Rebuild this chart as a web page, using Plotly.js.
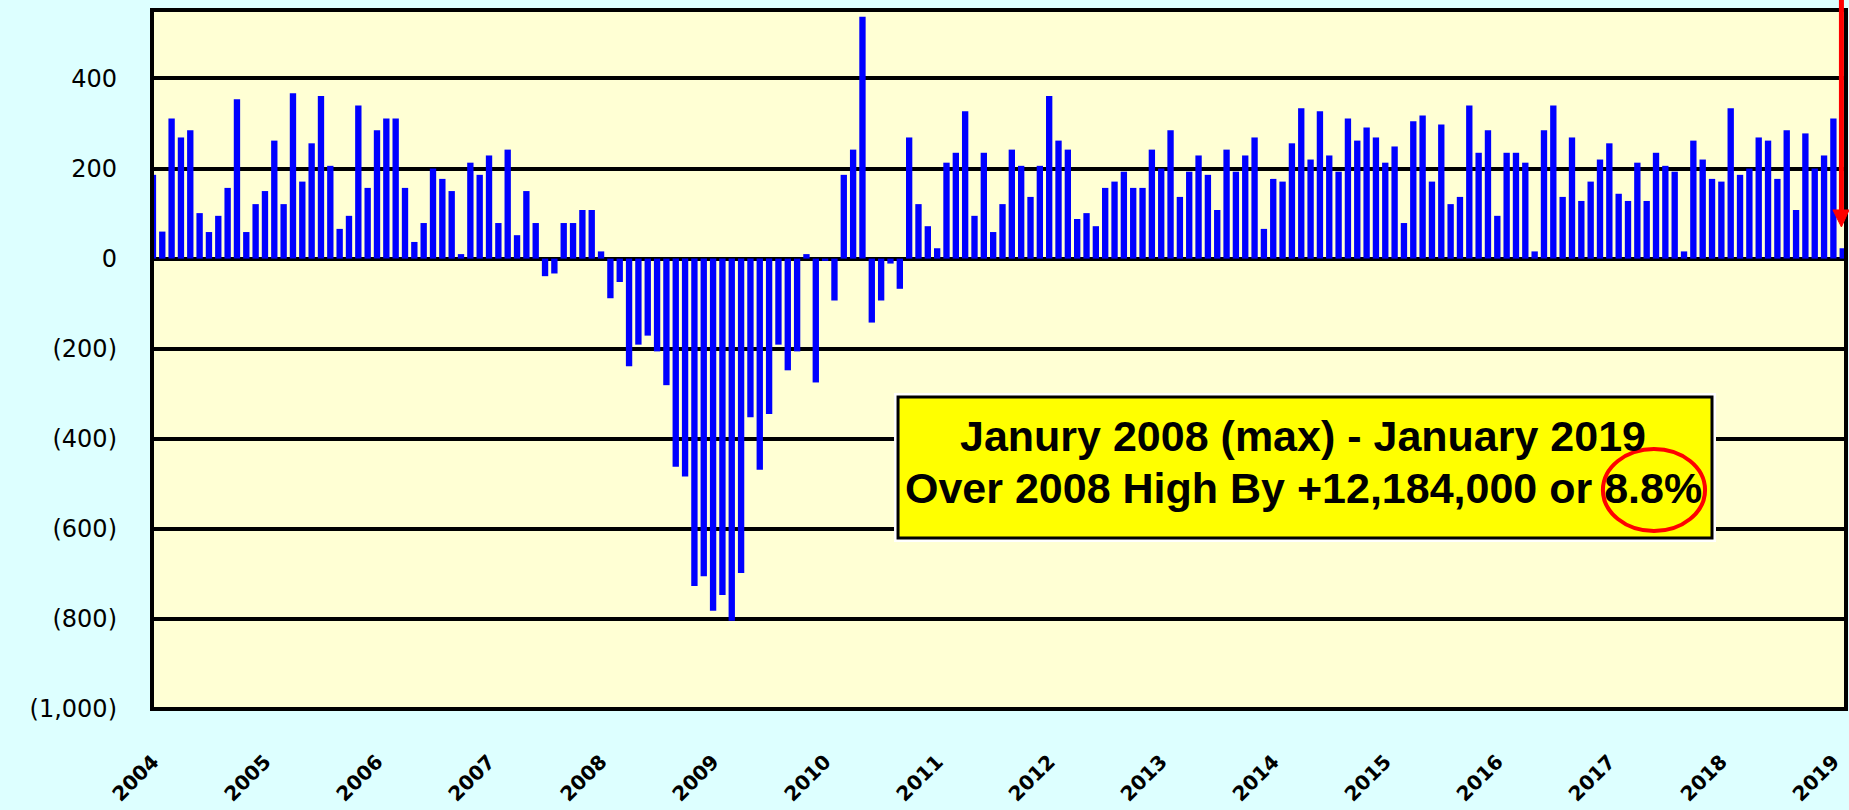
<!DOCTYPE html>
<html>
<head>
<meta charset="utf-8">
<script src="https://cdn.plot.ly/plotly-3.0.1.min.js"></script>
<style>
  html, body { margin: 0; padding: 0; background: #DDFFFF; }
  #chart { width: 1849px; height: 810px; }
</style>
</head>
<body>
<div id="chart"></div>
<script>
// Monthly change in nonfarm payrolls (thousands), Jan 2004 - Feb 2019
const y2004 = [186, 60, 311, 269, 285, 101, 59, 95, 157, 354, 59, 121];
const y2005 = [150, 262, 121, 367, 171, 256, 361, 206, 66, 95, 340, 157];
const y2006 = [285, 311, 311, 157, 37, 79, 200, 177, 150, 10, 213, 186];
const y2007 = [229, 79, 242, 52, 150, 79, -39, -33, 79, 79, 108, 108];
const y2008 = [16, -88, -52, -239, -191, -171, -206, -281, -462, -484, -727, -705];
const y2009 = [-782, -747, -804, -698, -352, -469, -345, -191, -248, -206, 10, -275];
const y2010 = [-5, -93, 186, 242, 537, -142, -93, -11, -67, 269, 121, 72];
const y2011 = [23, 213, 235, 327, 95, 235, 59, 121, 242, 206, 137, 206];
const y2012 = [361, 262, 242, 88, 101, 72, 157, 171, 193, 157, 157, 242];
const y2013 = [200, 285, 137, 193, 229, 186, 108, 242, 193, 229, 269, 66];
const y2014 = [177, 171, 256, 334, 220, 327, 229, 193, 311, 262, 291, 269];
const y2015 = [213, 249, 79, 305, 318, 171, 298, 121, 137, 340, 235, 285];
const y2016 = [95, 235, 235, 213, 16, 285, 340, 137, 269, 128, 171, 220];
const y2017 = [256, 144, 128, 213, 128, 235, 206, 193, 16, 262, 220, 177];
const y2018 = [171, 334, 186, 200, 269, 262, 177, 285, 108, 278, 200, 229];
const y2019 = [311, 23];

const monthNames = ["Jan","Feb","Mar","Apr","May","Jun","Jul","Aug","Sep","Oct","Nov","Dec"];
const tickYears = ["2004","2005","2006","2007","2008","2009","2010","2011","2012","2013","2014","2015","2016","2017","2018","2019"];
const yTickVals = [-1000, -800, -600, -400, -200, 0, 200, 400];
const yTickText = ["(1,000)", "(800)", "(600)", "(400)", "(200)", "0", "200", "400"];

const yearSeries = [y2004, y2005, y2006, y2007, y2008, y2009, y2010, y2011, y2012, y2013, y2014, y2015, y2016, y2017, y2018, y2019];
const months = [];
const values = [];
yearSeries.forEach((arr, yi) => {
  arr.forEach((v, mi) => {
    months.push(monthNames[mi] + " " + tickYears[yi]);
    values.push(v);
  });
});
const tickVals = tickYears.map(y => "Jan " + y);

const annotLine1 = "Janury 2008 (max) - January 2019";
const annotLine2 = "Over 2008 High By +12,184,000 or 8.8%";

const trace = {
  type: "bar",
  x: months,
  y: values,
  width: 0.68,
  marker: { color: "#0000FF", line: { width: 0 } },
  hoverinfo: "x+y"
};

const layout = {
  width: 1849,
  height: 810,
  margin: { l: 152, r: 3, t: 10, b: 101, pad: 0 },
  paper_bgcolor: "#DDFFFF",
  plot_bgcolor: "#FFFFD4",
  showlegend: false,
  xaxis: {
    type: "category",
    range: [-0.1, 181.35],
    showgrid: false,
    zeroline: false,
    showline: false,
    ticks: "",
    tickmode: "array",
    tickvals: tickVals,
    ticktext: tickYears,
    tickangle: -45,
    ticklabelstandoff: 36,
    tickfont: { family: "DejaVu Sans", size: 20, color: "#000000", weight: "bold" }
  },
  yaxis: {
    range: [-1000, 552],
    showgrid: true,
    gridcolor: "#000000",
    gridwidth: 4,
    zeroline: true,
    zerolinecolor: "#000000",
    zerolinewidth: 4,
    showline: false,
    ticks: "",
    tickmode: "array",
    tickvals: yTickVals,
    ticktext: yTickText,
    ticklabelstandoff: 34,
    tickfont: { family: "DejaVu Sans", size: 24, color: "#000000" }
  },
  shapes: [
    // plot frame
    { type: "rect", xref: "paper", yref: "paper", x0: 0, x1: 1, y0: 0, y1: 1,
      line: { color: "#000000", width: 4 }, fillcolor: "rgba(0,0,0,0)", layer: "above" },
    // annotation box (white halo + yellow fill with black border)
    { type: "rect", xref: "paper", yref: "paper", x0: 0.4404, x1: 0.9209, y0: 0.2446, y1: 0.4464,
      line: { color: "#FFFFFF", width: 8 }, fillcolor: "#FFFF00", layer: "above" },
    { type: "rect", xref: "paper", yref: "paper", x0: 0.4404, x1: 0.9209, y0: 0.2446, y1: 0.4464,
      line: { color: "#000000", width: 3 }, fillcolor: "#FFFF00", layer: "above" },
    // red circle around the percentage
    { type: "circle", xref: "paper", yref: "paper", x0: 0.8565, x1: 0.9168, y0: 0.2546, y1: 0.3720,
      line: { color: "#FF0000", width: 4 }, fillcolor: "rgba(0,0,0,0)", layer: "above" },
    // red arrow pointing at the latest bar
    { type: "line", xref: "paper", yref: "paper", x0: 0.9973, x1: 0.9973, y0: 1.02, y1: 0.712,
      line: { color: "#FF0000", width: 5 }, layer: "above" },
    { type: "path", xref: "paper", yref: "paper",
      path: "M 0.9923 0.7139 L 1.0018 0.7139 L 0.9973 0.6896 Z",
      line: { color: "#FF0000", width: 1 }, fillcolor: "#FF0000", layer: "above" }
  ],
  annotations: [
    { xref: "paper", yref: "paper", x: 0.6795, y: 0.3906, xanchor: "center", yanchor: "middle",
      text: annotLine1, showarrow: false,
      font: { family: "Liberation Sans, Arial", size: 43, color: "#000000", weight: "bold" } },
    { xref: "paper", yref: "paper", x: 0.6795, y: 0.3162, xanchor: "center", yanchor: "middle",
      text: annotLine2, showarrow: false,
      font: { family: "Liberation Sans, Arial", size: 43, color: "#000000", weight: "bold" } }
  ]
};

Plotly.newPlot("chart", [trace], layout, { displayModeBar: false, staticPlot: true });
</script>
</body>
</html>
